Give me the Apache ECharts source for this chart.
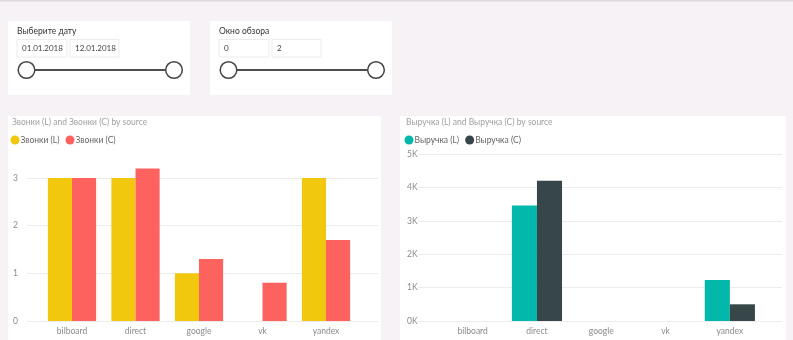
<!DOCTYPE html>
<html>
<head>
<meta charset="utf-8">
<script src="https://cdn.jsdelivr.net/npm/echarts@6/dist/echarts.min.js"></script>
<style>
  html, body { margin: 0; padding: 0; background: #f6f2f5; }
  #main { width: 793px; height: 340px; }
</style>
</head>
<body>
<div id="main"></div>
<script>
// Sources shared by both column charts
const categories = ['bilboard', 'direct', 'google', 'vk', 'yandex'];

// Звонки: L and C per source
const callsL = [3, 3, 1, 0, 3];
const callsC = [3, 3.2, 1.3, 0.8, 1.7];

// Выручка: L and C per source
const revenueL = [0, 3460, 0, 0, 1230];
const revenueC = [0, 4200, 0, 0, 500];

// Slicer contents
const dateRange = ['01.01.2018', '12.01.2018'];
const windowRange = ['0', '2'];

const FONT = 'Lato, "Noto Sans", sans-serif';
const GRID_COLOR = '#ececec';
const LABEL_COLOR = '#8a8a8a';

function slicer(x, title, values) {
  const els = [];
  els.push({ type: 'rect', shape: { x: x, y: 21, width: 182, height: 74 }, style: { fill: '#ffffff' }, silent: true });
  els.push({ type: 'text', x: x + 9, y: 31, style: { text: title, font: '8.5px ' + FONT, fill: '#333333', verticalAlign: 'middle' } });
  const boxX = [x + 9, x + 62];
  const boxW = [50, 49];
  for (let i = 0; i < 2; i++) {
    els.push({ type: 'rect', shape: { x: boxX[i], y: 39.5, width: boxW[i], height: 17.5 }, style: { fill: '#ffffff', stroke: '#ebebeb', lineWidth: 1 } });
    els.push({ type: 'text', x: boxX[i] + 5, y: 48.5, style: { text: values[i], font: '8px ' + FONT, fill: '#444444', verticalAlign: 'middle' } });
  }
  const c1 = x + 18.5, c2 = x + 166;
  els.push({ type: 'line', shape: { x1: c1, y1: 70, x2: c2, y2: 70 }, style: { stroke: '#4d4d4d', lineWidth: 2 } });
  els.push({ type: 'circle', shape: { cx: c1, cy: 70, r: 8.3 }, style: { fill: '#ffffff', stroke: '#444444', lineWidth: 1.5 } });
  els.push({ type: 'circle', shape: { cx: c2, cy: 70, r: 8.3 }, style: { fill: '#ffffff', stroke: '#444444', lineWidth: 1.5 } });
  return els;
}

const chart = echarts.init(document.getElementById('main'), null, { renderer: 'canvas' });

const axisLabelCat = { color: LABEL_COLOR, fontSize: 8.5, fontFamily: FONT, margin: 6 };

chart.setOption({
  backgroundColor: '#f6f2f5',
  animation: false,
  graphic: [
    { type: 'rect', shape: { x: 0, y: 0, width: 793, height: 1.5 }, style: { fill: '#dcdcdc' }, silent: true, z: -1 },
    { type: 'rect', shape: { x: 8, y: 116, width: 373, height: 240 }, style: { fill: '#ffffff' }, silent: true, z: -1 },
    { type: 'rect', shape: { x: 400, y: 116, width: 386, height: 240 }, style: { fill: '#ffffff' }, silent: true, z: -1 },
    ...slicer(8, 'Выберите дату', dateRange),
    ...slicer(210, 'Окно обзора', windowRange)
  ],
  title: [
    { text: 'Звонки (L) and Звонки (C) by source', left: 7, top: 113, textStyle: { color: '#a0a0a0', fontSize: 8.5, fontWeight: 'normal', fontFamily: FONT } },
    { text: 'Выручка (L) and Выручка (C) by source', left: 401, top: 113, textStyle: { color: '#a0a0a0', fontSize: 8.5, fontWeight: 'normal', fontFamily: FONT } }
  ],
  legend: [
    { data: ['Звонки (L)', 'Звонки (C)'], left: 5.5, top: 130.5, icon: 'circle', itemWidth: 9, itemHeight: 9, itemGap: 6,
      textStyle: { color: '#666666', fontSize: 8.5, fontFamily: FONT, padding: [0, 0, 0, -4] } },
    { data: ['Выручка (L)', 'Выручка (C)'], left: 399.5, top: 130.5, icon: 'circle', itemWidth: 9, itemHeight: 9, itemGap: 6,
      textStyle: { color: '#666666', fontSize: 8.5, fontFamily: FONT, padding: [0, 0, 0, -4] } }
  ],
  grid: [
    // 0: calls bars
    { left: 40.25, width: 317.5, top: 154.2, bottom: 19 },
    // 1: calls gridlines and value labels
    { left: 27, width: 351, top: 178, bottom: 19 },
    // 2: revenue bars
    { left: 440.5, width: 321.5, top: 154, bottom: 19 },
    // 3: revenue gridlines and value labels
    { left: 418, width: 364, top: 154, bottom: 19 }
  ],
  xAxis: [
    { type: 'category', gridIndex: 0, data: categories, axisLine: { show: false }, axisTick: { show: false }, axisLabel: axisLabelCat },
    { type: 'category', gridIndex: 1, data: categories, show: false },
    { type: 'category', gridIndex: 2, data: categories, axisLine: { show: false }, axisTick: { show: false }, axisLabel: axisLabelCat },
    { type: 'category', gridIndex: 3, data: categories, show: false }
  ],
  yAxis: [
    { type: 'value', gridIndex: 0, min: 0, max: 3.5, show: false, splitLine: { show: false } },
    { type: 'value', gridIndex: 1, min: 0, max: 3, interval: 1,
      axisLine: { show: false }, axisTick: { show: false },
      splitLine: { lineStyle: { color: GRID_COLOR, width: 1 } },
      axisLabel: { color: LABEL_COLOR, fontSize: 8.5, fontFamily: FONT, align: 'left', margin: 14 } },
    { type: 'value', gridIndex: 2, min: 0, max: 5000, show: false, splitLine: { show: false } },
    { type: 'value', gridIndex: 3, min: 0, max: 5000, interval: 1000,
      axisLine: { show: false }, axisTick: { show: false },
      splitLine: { lineStyle: { color: GRID_COLOR, width: 1 } },
      axisLabel: { color: LABEL_COLOR, fontSize: 8.5, fontFamily: FONT, align: 'left', margin: 11,
        formatter: v => (v / 1000) + 'K' } }
  ],
  series: [
    { name: 'Звонки (L)', type: 'bar', xAxisIndex: 0, yAxisIndex: 0, data: callsL, itemStyle: { color: '#F2C80F' }, barGap: '0%', barCategoryGap: '24%' },
    { name: 'Звонки (C)', type: 'bar', xAxisIndex: 0, yAxisIndex: 0, data: callsC, itemStyle: { color: '#FD625E' }, barGap: '0%', barCategoryGap: '24%' },
    { name: 'Выручка (L)', type: 'bar', xAxisIndex: 2, yAxisIndex: 2, data: revenueL, itemStyle: { color: '#01B8AA' }, barGap: '0%', barCategoryGap: '22%' },
    { name: 'Выручка (C)', type: 'bar', xAxisIndex: 2, yAxisIndex: 2, data: revenueC, itemStyle: { color: '#374649' }, barGap: '0%', barCategoryGap: '22%' }
  ]
});
</script>
</body>
</html>
